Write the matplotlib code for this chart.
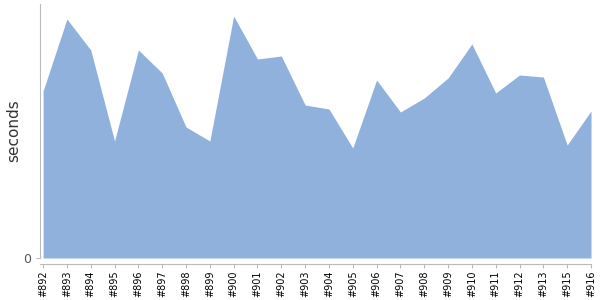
import matplotlib
matplotlib.use("Agg")
import matplotlib.pyplot as plt

# Build labels and durations (seconds)
builds = ["#892", "#893", "#894", "#895", "#896", "#897", "#898", "#899",
          "#900", "#901", "#902", "#903", "#904", "#905", "#906", "#907",
          "#908", "#909", "#910", "#911", "#912", "#913", "#915", "#916"]
seconds = [16.7, 23.9, 20.8, 11.7, 20.8, 18.5, 13.1, 11.7,
           24.2, 19.9, 20.2, 15.3, 14.9, 11.0, 17.8, 14.6,
           16.0, 18.0, 21.4, 16.5, 18.3, 18.1, 11.3, 14.7]

fig = plt.figure(figsize=(6, 3), dpi=100)
ax = fig.add_axes([40 / 600, 42 / 300, 551 / 600, 254 / 300])

x = range(len(builds))
ax.fill_between(x, seconds, 0, color="#8fb1db", linewidth=0)

for s in ["top", "right"]:
    ax.spines[s].set_visible(False)
ax.spines["left"].set_color("#bbbbbb")
ax.spines["bottom"].set_color("#bbbbbb")
ax.spines["bottom"].set_position(("outward", 4))

ax.set_xlim(-0.13, len(builds) - 1)
ax.set_ylim(0, 25.4)
ax.set_xticks(list(x))
ax.set_xticklabels(builds, rotation=90, fontsize=7)
ax.set_yticks([0])
ax.set_yticklabels(["0"], fontsize=9)
ax.set_ylabel("seconds", fontsize=11, color="#333333", labelpad=1)
ax.tick_params(axis="x", colors="#bbbbbb", labelcolor="black", length=3, pad=2)
ax.tick_params(axis="y", colors="#bbbbbb", labelcolor="#555555", length=3)

fig.savefig("out.png")
